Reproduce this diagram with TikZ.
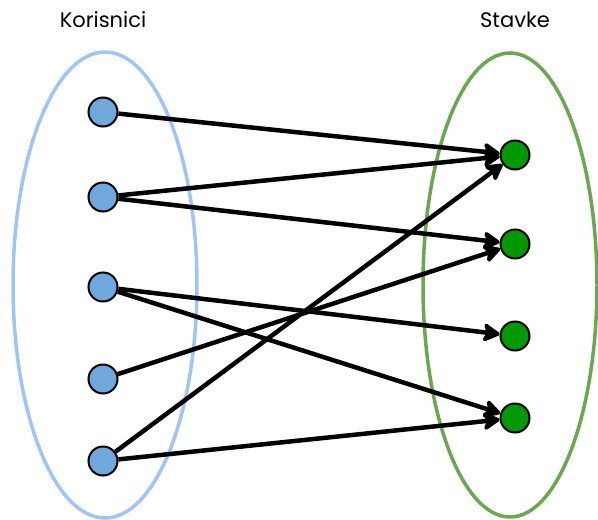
\documentclass[tikz,border=0pt]{standalone}
\usepackage{fontspec}
\setmainfont{Poppins}
\usetikzlibrary{arrows.meta}
\definecolor{userblue}{RGB}{111,168,220}
\definecolor{userring}{RGB}{159,197,248}
\definecolor{itemgreen}{RGB}{0,153,0}
\definecolor{itemring}{RGB}{106,168,79}
\begin{document}
\begin{tikzpicture}[x=1pt,y=-1pt,
    user node/.style={circle,draw,line width=2pt,fill=userblue,minimum size=29pt,inner sep=0pt},
    item node/.style={circle,draw,line width=2pt,fill=itemgreen,minimum size=29pt,inner sep=0pt},
    set label/.style={font=\fontsize{21}{25}\selectfont}]
        \useasboundingbox (0,0) rectangle (598,520);

        \draw[userring, line width=3.5pt] (105,285) ellipse [x radius=92, y radius=233];
        \draw[itemring, line width=3.5pt] (510,285) ellipse [x radius=87, y radius=232];

        \node[set label] at (103,20) (korisnici) {Korisnici};
        \node[set label] at (515,20) (stavke) {Stavke};

        \node[user node] at (103,112) (u1) {};
        \node[user node] at (103,197) (u2) {};
        \node[user node] at (103,287) (u3) {};
        \node[user node] at (103,379) (u4) {};
        \node[user node] at (103,461) (u5) {};

        \node[item node] at (515,155) (s1) {};
        \node[item node] at (515,244) (s2) {};
        \node[item node] at (515,336) (s3) {};
        \node[item node] at (515,418) (s4) {};

        \path[line width=4.5pt, -{Stealth[length=20pt,width=22pt,inset=5pt,round]}]
            (u1) edge (s1)
            (u2) edge (s1)
            (u2) edge (s2)
            (u3) edge (s3)
            (u3) edge (s4)
            (u4) edge (s2)
            (u5) edge (s1)
            (u5) edge (s4)
            ;
    \end{tikzpicture}
\end{document}
